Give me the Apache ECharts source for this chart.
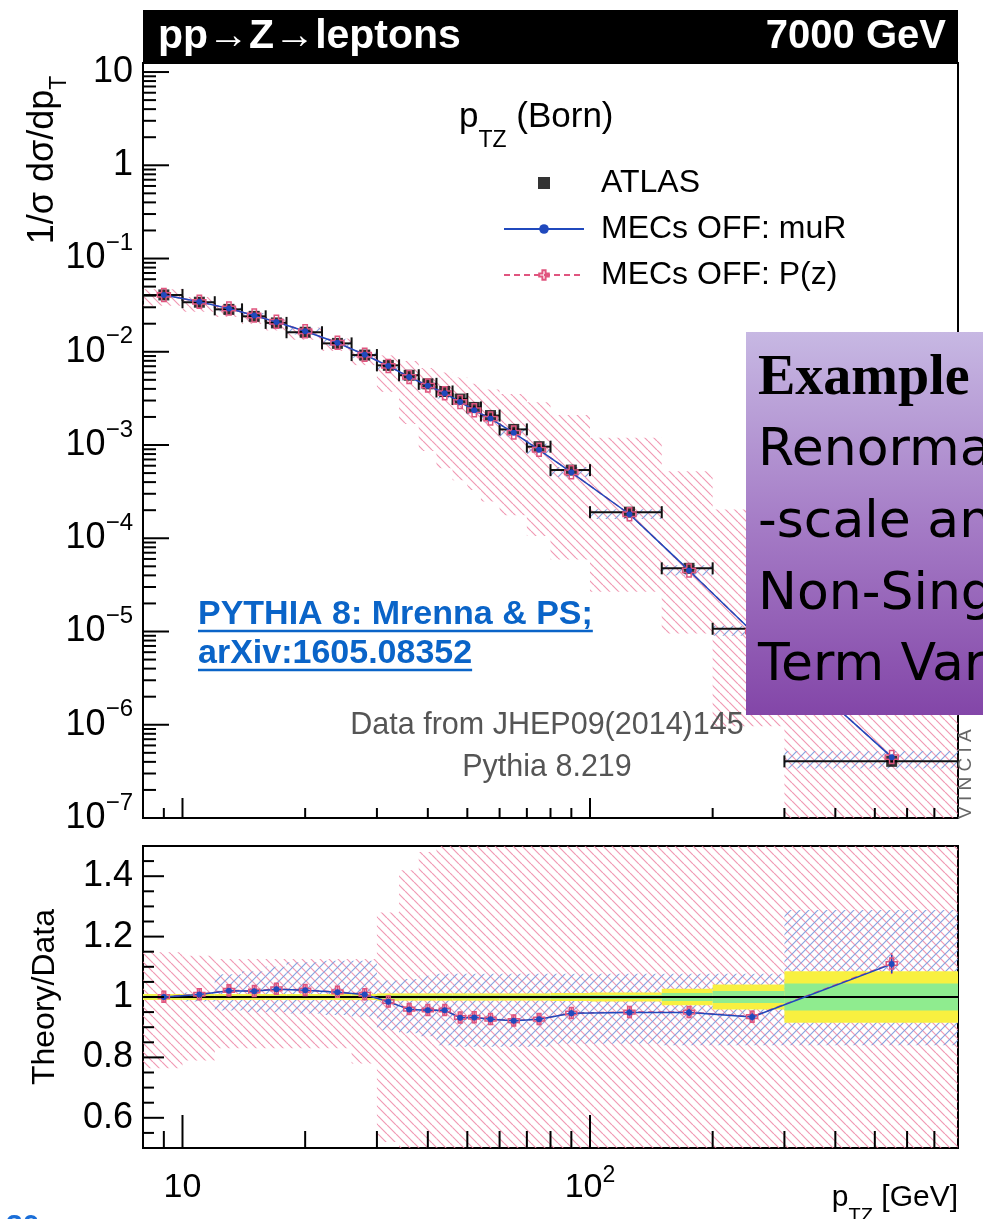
<!DOCTYPE html>
<html><head><meta charset="utf-8">
<script src="https://cdn.jsdelivr.net/npm/echarts@6/dist/echarts.min.js"></script>
<style>html,body{margin:0;padding:0;background:#fff}#c{width:983px;height:1219px}</style>
</head><body><div id="c"></div>
<script>
// ---------------- data ----------------
const binLo     = [8,10,12,14,16,18,22,26,30,34,38,42,46,50,54,60,70,80,100,150,200,300];
const binHi     = [10,12,14,16,18,22,26,30,34,38,42,46,50,54,60,70,80,100,150,200,300,800];
const binCenter = [9,11,13,15,17,20,24,28,32,36,40,44,48,52,57,65,75,90,125,175,250,550];
const atlas = [0.0407,0.0340,0.0285,0.0240,0.0204,0.0162,0.0123,0.00922,0.00715,0.00560,0.00453,0.00375,0.00311,0.00253,0.00207,0.00147,0.00096,0.000538,1.905e-4,4.76e-5,1.07e-5,4.05e-7];
const mcMuR = [0.0407,0.0343,0.0291,0.0245,0.0209,0.0166,0.0125,0.00929,0.00704,0.00537,0.00433,0.00359,0.00290,0.00236,0.00192,0.00135,0.000889,0.000509,1.81e-4,4.52e-5,1.0e-5,4.49e-7];
const mcPz  = [0.0407,0.0343,0.0291,0.0245,0.0210,0.0166,0.0125,0.00930,0.00705,0.00538,0.00434,0.00360,0.00290,0.00236,0.00192,0.00136,0.000890,0.000510,1.81e-4,4.52e-5,1.0e-5,4.50e-7];
const ratioMuR = [1.000,1.008,1.021,1.019,1.026,1.022,1.016,1.008,0.984,0.959,0.956,0.956,0.931,0.932,0.926,0.921,0.926,0.946,0.949,0.949,0.934,1.109];
const ratioPz  = [1.001,1.009,1.022,1.020,1.027,1.023,1.017,1.009,0.985,0.960,0.957,0.957,0.932,0.933,0.927,0.922,0.927,0.947,0.950,0.950,0.935,1.111];
const errMuR = [0.008,0.008,0.008,0.008,0.008,0.008,0.008,0.008,0.008,0.008,0.008,0.008,0.008,0.008,0.008,0.009,0.009,0.010,0.010,0.012,0.012,0.030];
const errPz  = [0.020,0.020,0.020,0.020,0.020,0.020,0.020,0.020,0.020,0.020,0.020,0.020,0.020,0.020,0.020,0.020,0.020,0.020,0.020,0.020,0.020,0.035];
// P(z) variation band, relative to data
const pinkLo = [0.764,0.790,0.830,0.830,0.830,0.830,0.830,0.780,0.520,0.300,0.190,0.150,0.135,0.130,0.120,0.120,0.110,0.110,0.140,0.200,0.090,0.050];
const pinkHi = [1.148,1.137,1.126,1.126,1.126,1.126,1.126,1.126,1.280,1.420,1.480,1.600,1.700,1.800,1.900,2.400,3.000,3.900,6.300,11.00,19.00,300.0];
// muR variation band, relative to data
const blueLo = [0.990,0.985,0.955,0.950,0.950,0.945,0.940,0.935,0.890,0.880,0.870,0.840,0.835,0.835,0.835,0.835,0.835,0.845,0.845,0.840,0.840,0.840];
const blueHi = [1.010,1.015,1.075,1.085,1.100,1.115,1.120,1.120,1.055,1.060,1.070,1.077,1.077,1.077,1.077,1.077,1.077,1.077,1.077,1.077,1.077,1.288];
// data uncertainties (relative half widths)
const totErr  = [0.010,0.010,0.010,0.010,0.010,0.010,0.010,0.010,0.012,0.012,0.012,0.012,0.012,0.012,0.012,0.012,0.012,0.013,0.015,0.027,0.041,0.085];
const statErr = [0.004,0.004,0.004,0.004,0.004,0.004,0.004,0.004,0.005,0.005,0.005,0.005,0.005,0.005,0.005,0.005,0.005,0.006,0.007,0.013,0.020,0.045];
// ticks
const xMajorTicks = [10,100];
const xMinorTicks = [9,20,30,40,50,60,70,80,90,200,300,400,500,600,700];
const yMajorTicks = [1e-7,1e-6,1e-5,1e-4,1e-3,1e-2,1e-1,1,10];
const yMinorTicks = [];
for (let n = -7; n <= 0; n++) for (let k = 2; k <= 9; k++) yMinorTicks.push(k * Math.pow(10, n));
const rMajorTicks = [0.6,0.8,1.0,1.2,1.4];
const rMinorTicks = [0.55,0.65,0.7,0.75,0.85,0.9,0.95,1.05,1.1,1.15,1.25,1.3,1.35,1.45];

// ---------------- styles ----------------
const FONT = '"Liberation Sans", Arial, Helvetica, sans-serif';
const PINK = '#e0557f';
const BLUE = '#2049bd';
const LINK = '#0a64c8';
const CROSS = 'path://M4,0H8V4H12V8H8V12H4V8H0V4H4Z';

function textWidth(text, font) {
  const g = document.createElement('canvas').getContext('2d'); g.font = font; return g.measureText(text).width;
}
function hatch(color, dir) {
  const s = 9;
  const c = document.createElement('canvas'); c.width = s; c.height = s;
  const g = c.getContext('2d'); g.strokeStyle = color; g.lineWidth = 1.2;
  g.beginPath();
  for (const k of [-s, 0, s]) {
    if (dir === 'back') { g.moveTo(k, 0); g.lineTo(k + s, s); }
    else { g.moveTo(k, s); g.lineTo(k + s, 0); }
  }
  g.stroke();
  return { image: c, repeat: 'repeat' };
}
const pinkHatch = hatch('rgba(236,128,160,0.8)', 'back');
const blueHatch = hatch('rgba(115,150,220,0.85)', 'fwd');

function bandSeries(xi, yi, rows, fill) {
  return { type: 'custom', xAxisIndex: xi, yAxisIndex: yi, silent: true, data: rows,
    encode: { x: [0, 1], y: [2, 3] },
    renderItem(params, api) {
      const cs = params.coordSys;
      const a = api.coord([api.value(0), api.value(2)]);
      const b = api.coord([api.value(1), api.value(3)]);
      const x1 = Math.max(cs.x, Math.min(a[0], b[0]));
      const x2 = Math.min(cs.x + cs.width, Math.max(a[0], b[0]));
      const y1 = Math.max(cs.y, Math.min(a[1], b[1]));
      const y2 = Math.min(cs.y + cs.height, Math.max(a[1], b[1]));
      if (!(x2 > x1 && y2 > y1)) return null;
      return { type: 'rect', shape: { x: x1, y: y1, width: x2 - x1, height: y2 - y1 }, style: { fill: fill } };
    } };
}
function xTickSeries(xi, yi, vals, len, refY) {
  return { type: 'custom', xAxisIndex: xi, yAxisIndex: yi, silent: true, z: 6,
    data: vals.map(v => [v, refY]),
    renderItem(params, api) {
      const cs = params.coordSys; const p = api.coord([api.value(0), api.value(1)]);
      const yb = cs.y + cs.height;
      return { type: 'line', shape: { x1: p[0], y1: yb, x2: p[0], y2: yb - len }, style: { stroke: '#000', lineWidth: 2 } };
    } };
}
function yTickSeries(xi, yi, vals, len, refX) {
  return { type: 'custom', xAxisIndex: xi, yAxisIndex: yi, silent: true, z: 6,
    data: vals.map(v => [refX, v]),
    renderItem(params, api) {
      const cs = params.coordSys; const p = api.coord([api.value(0), api.value(1)]);
      return { type: 'line', shape: { x1: cs.x, y1: p[1], x2: cs.x + len, y2: p[1] }, style: { stroke: '#000', lineWidth: 2 } };
    } };
}
function hErrSeries(rows) {
  return { type: 'custom', xAxisIndex: 0, yAxisIndex: 0, silent: true, data: rows,
    encode: { x: [0, 1], y: 2 },
    renderItem(params, api) {
      const cs = params.coordSys;
      const a = api.coord([api.value(0), api.value(2)]);
      const b = api.coord([api.value(1), api.value(2)]);
      const x1 = Math.max(cs.x, a[0]), x2 = Math.min(cs.x + cs.width, b[0]), y = a[1];
      const st = { stroke: '#111', lineWidth: 2 };
      return { type: 'group', children: [
        { type: 'line', shape: { x1: x1, y1: y, x2: x2, y2: y }, style: st },
        { type: 'line', shape: { x1: x1, y1: y - 6, x2: x1, y2: y + 6 }, style: st },
        { type: 'line', shape: { x1: x2, y1: y - 6, x2: x2, y2: y + 6 }, style: st }
      ] };
    } };
}
function vErrSeries(rows, color) {
  return { type: 'custom', xAxisIndex: 1, yAxisIndex: 1, silent: true, data: rows,
    encode: { x: 0, y: 1 },
    renderItem(params, api) {
      const a = api.coord([api.value(0), api.value(1) - api.value(2)]);
      const b = api.coord([api.value(0), api.value(1) + api.value(2)]);
      return { type: 'line', shape: { x1: a[0], y1: a[1], x2: b[0], y2: b[1] }, style: { stroke: color, lineWidth: 1.5 } };
    } };
}
function powLabel(v) {
  const e = Math.log10(v); const r = Math.round(e);
  if (Math.abs(e - r) > 1e-6) return '';
  if (r === 0) return '{b|1}';
  if (r === 1) return '{b|10}';
  return '{b|10}{s|' + (r < 0 ? '\u2212' + (-r) : r) + '}';
}

const idx = binLo.map((_, i) => i);
const rows = (lo, hi) => idx.map(i => [binLo[i], binHi[i], lo(i), hi(i)]);

const linkFont = 'bold 34px ' + FONT;
const link1 = 'PYTHIA 8: Mrenna & PS;';
const link2 = 'arXiv:1605.08352';
const w1 = textWidth(link1, linkFont), w2 = textWidth(link2, linkFont);
const boxFont = '52px "DejaVu Sans", "Noto Sans", sans-serif';

const chart = echarts.init(document.getElementById('c'), null, { renderer: 'canvas' });
const option = {
  animation: false,
  backgroundColor: '#fff',
  grid: [
    { left: 143, top: 63, width: 815, height: 755, show: true, borderColor: '#000', borderWidth: 2, backgroundColor: 'transparent', containLabel: false, outerBoundsMode: 'none' },
    { left: 143, top: 846, width: 815, height: 302, show: true, borderColor: '#000', borderWidth: 2, backgroundColor: 'transparent', containLabel: false, outerBoundsMode: 'none' }
  ],
  xAxis: [
    { type: 'log', logBase: 10, gridIndex: 0, min: 8, max: 800, axisLine: { show: false }, axisTick: { show: false }, axisLabel: { show: false }, splitLine: { show: false } },
    { type: 'log', logBase: 10, gridIndex: 1, min: 8, max: 800, axisLine: { show: false }, axisTick: { show: false }, splitLine: { show: false },
      axisLabel: { show: true, interval: 0, margin: 16, formatter: powLabel, color: '#000',
        rich: { b: { fontSize: 34, fontFamily: FONT, lineHeight: 48, color: '#000' },
                s: { fontSize: 23, fontFamily: FONT, lineHeight: 23, verticalAlign: 'top', color: '#000' } } } }
  ],
  yAxis: [
    { type: 'log', logBase: 10, gridIndex: 0, min: 1e-7, max: 12.5, axisLine: { show: false }, axisTick: { show: false }, splitLine: { show: false },
      axisLabel: { show: true, interval: 0, margin: 10, formatter: powLabel, color: '#000',
        rich: { b: { fontSize: 36, fontFamily: FONT, lineHeight: 54, color: '#000' },
                s: { fontSize: 24, fontFamily: FONT, lineHeight: 24, verticalAlign: 'top', color: '#000' } } } },
    { type: 'value', gridIndex: 1, min: 0.5, max: 1.5, interval: 0.1, axisLine: { show: false }, axisTick: { show: false }, splitLine: { show: false },
      axisLabel: { show: true, margin: 10, fontSize: 36, fontFamily: FONT, color: '#000',
        formatter: v => { const r = Math.round(v * 10); return (r % 2 === 0 && r >= 6 && r <= 14) ? String(r / 10) : ''; } } }
  ],
  legend: {
    left: 503, top: 165, padding: 0, orient: 'vertical', itemWidth: 80, itemHeight: 12, itemGap: 10, selectedMode: false,
    data: [{ name: 'ATLAS', icon: 'path://M0,0H10V10H0Z' }, 'MECs OFF: muR', 'MECs OFF: P(z)'],
    textStyle: { fontSize: 32, fontFamily: FONT, color: '#000', lineHeight: 36, padding: [0, 0, 0, 12] }
  },
  series: [
    // main panel bands
    bandSeries(0, 0, rows(i => atlas[i] * pinkLo[i], i => atlas[i] * pinkHi[i]), pinkHatch),
    bandSeries(0, 0, rows(i => atlas[i] * blueLo[i], i => atlas[i] * blueHi[i]), blueHatch),
    // ratio panel bands
    bandSeries(1, 1, rows(i => pinkLo[i], i => pinkHi[i]), pinkHatch),
    bandSeries(1, 1, rows(i => blueLo[i], i => blueHi[i]), blueHatch),
    bandSeries(1, 1, rows(i => 1 - totErr[i], i => 1 + totErr[i]), '#f8f040'),
    bandSeries(1, 1, rows(i => 1 - statErr[i], i => 1 + statErr[i]), '#8fec8f'),
    // unity line
    { type: 'custom', xAxisIndex: 1, yAxisIndex: 1, silent: true, data: [[10, 1]],
      renderItem(params, api) { const cs = params.coordSys; const p = api.coord([api.value(0), api.value(1)]);
        return { type: 'line', shape: { x1: cs.x, y1: p[1], x2: cs.x + cs.width, y2: p[1] }, style: { stroke: '#000', lineWidth: 2 } }; } },
    // data
    hErrSeries(idx.map(i => [binLo[i], binHi[i], atlas[i]])),
    { name: 'ATLAS', type: 'scatter', xAxisIndex: 0, yAxisIndex: 0, symbol: 'rect', symbolSize: 11,
      itemStyle: { color: '#000' }, data: idx.map(i => [binCenter[i], atlas[i]]) },
    { name: 'MECs OFF: P(z)', type: 'line', xAxisIndex: 0, yAxisIndex: 0, symbol: CROSS, symbolSize: 13,
      lineStyle: { color: PINK, width: 1.5, type: [6, 4] }, itemStyle: { color: 'rgba(255,255,255,0)', borderColor: PINK, borderWidth: 1.5 },
      data: idx.map(i => [binCenter[i], mcPz[i]]) },
    { name: 'MECs OFF: muR', type: 'line', xAxisIndex: 0, yAxisIndex: 0, symbol: 'circle', symbolSize: 6,
      lineStyle: { color: BLUE, width: 1.5 }, itemStyle: { color: BLUE },
      data: idx.map(i => [binCenter[i], mcMuR[i]]) },
    // ratio
    vErrSeries(idx.map(i => [binCenter[i], ratioPz[i], errPz[i]]), PINK),
    { name: 'rPz', type: 'line', xAxisIndex: 1, yAxisIndex: 1, symbol: CROSS, symbolSize: 11,
      lineStyle: { color: PINK, width: 1.5, type: [6, 4] }, itemStyle: { color: 'rgba(255,255,255,0)', borderColor: PINK, borderWidth: 1.5 },
      data: idx.map(i => [binCenter[i], ratioPz[i]]) },
    vErrSeries(idx.map(i => [binCenter[i], ratioMuR[i], errMuR[i]]), BLUE),
    { name: 'rMuR', type: 'line', xAxisIndex: 1, yAxisIndex: 1, symbol: 'circle', symbolSize: 6,
      lineStyle: { color: BLUE, width: 1.5 }, itemStyle: { color: BLUE },
      data: idx.map(i => [binCenter[i], ratioMuR[i]]) },
    // ticks
    xTickSeries(0, 0, xMajorTicks, 20, 1), xTickSeries(0, 0, xMinorTicks, 10, 1),
    yTickSeries(0, 0, yMajorTicks, 26, 10), yTickSeries(0, 0, yMinorTicks, 13, 10),
    xTickSeries(1, 1, xMajorTicks, 33, 1), xTickSeries(1, 1, xMinorTicks, 17, 1),
    yTickSeries(1, 1, rMajorTicks, 21, 10), yTickSeries(1, 1, rMinorTicks, 11, 10)
  ],
  graphic: [
    { type: 'rect', z: 100, shape: { x: 143, y: 10, width: 815, height: 53 }, style: { fill: '#000' } },
    { type: 'text', z: 101, x: 158, y: 37, style: { text: 'pp\u2192Z\u2192leptons', fill: '#fff', font: 'bold 41px ' + FONT, align: 'left', verticalAlign: 'middle' } },
    { type: 'text', z: 101, x: 946, y: 37, style: { text: '7000 GeV', fill: '#fff', font: 'bold 40px ' + FONT, align: 'right', verticalAlign: 'middle' } },
    { type: 'text', z: 101, x: 459, y: 117, style: { text: '{p|p}{s|TZ}{p| (Born)}', align: 'left', verticalAlign: 'middle',
        rich: { p: { fontSize: 35, fontFamily: FONT, lineHeight: 70, fill: '#000' }, s: { fontSize: 23, fontFamily: FONT, lineHeight: 23, verticalAlign: 'bottom', fill: '#000' } } } },
    { type: 'text', z: 101, x: 43, y: 160, rotation: Math.PI / 2, style: { text: '{n|1/\u03c3 d\u03c3/dp}{s|T}', align: 'center', verticalAlign: 'middle',
        rich: { n: { fontSize: 36, fontFamily: FONT, lineHeight: 56, fill: '#000' }, s: { fontSize: 23, fontFamily: FONT, lineHeight: 23, verticalAlign: 'bottom', fill: '#000' } } } },
    { type: 'text', z: 101, x: 45, y: 997, rotation: Math.PI / 2, style: { text: 'Theory/Data', fill: '#000', font: '32px ' + FONT, align: 'center', verticalAlign: 'middle' } },
    { type: 'text', z: 101, x: 958, y: 1198, style: { text: '{p|p}{s|TZ}{p| [GeV]}', align: 'right', verticalAlign: 'middle',
        rich: { p: { fontSize: 30, fontFamily: FONT, lineHeight: 56, fill: '#000' }, s: { fontSize: 20, fontFamily: FONT, lineHeight: 20, verticalAlign: 'bottom', fill: '#000' } } } },
    { type: 'text', z: 101, x: 198, y: 615, style: { text: link1, fill: LINK, font: linkFont, align: 'left', verticalAlign: 'middle' } },
    { type: 'text', z: 101, x: 198, y: 654, style: { text: link2, fill: LINK, font: linkFont, align: 'left', verticalAlign: 'middle' } },
    { type: 'line', z: 101, shape: { x1: 198, y1: 631, x2: 198 + w1, y2: 631 }, style: { stroke: LINK, lineWidth: 2.5 } },
    { type: 'line', z: 101, shape: { x1: 198, y1: 670, x2: 198 + w2, y2: 670 }, style: { stroke: LINK, lineWidth: 2.5 } },
    { type: 'text', z: 101, x: 547, y: 726, style: { text: 'Data from JHEP09(2014)145', fill: '#555', font: '30.5px ' + FONT, align: 'center', verticalAlign: 'middle' } },
    { type: 'text', z: 101, x: 547, y: 768, style: { text: 'Pythia 8.219', fill: '#555', font: '30.5px ' + FONT, align: 'center', verticalAlign: 'middle' } },
    { type: 'text', z: 101, x: 966, y: 819, rotation: Math.PI / 2, style: { text: 'V I N C I A', fill: '#666', font: '19px ' + FONT, align: 'left', verticalAlign: 'middle' } },
    { type: 'rect', z: 110, shape: { x: 746, y: 332, width: 240, height: 383 },
      style: { fill: new echarts.graphic.LinearGradient(0, 0, 0, 1, [{ offset: 0, color: '#c7b8e3' }, { offset: 0.5, color: '#a57cc6' }, { offset: 1, color: '#8346a8' }]) } },
    { type: 'text', z: 111, x: 758, y: 380, style: { text: 'Example', fill: '#000', font: 'bold 56px "Liberation Serif", "DejaVu Serif", serif', align: 'left', verticalAlign: 'middle' } },
    { type: 'text', z: 111, x: 758, y: 451, style: { text: 'Renormalization', fill: '#000', font: boxFont, align: 'left', verticalAlign: 'middle' } },
    { type: 'text', z: 111, x: 758, y: 523, style: { text: '-scale and', fill: '#000', font: boxFont, align: 'left', verticalAlign: 'middle' } },
    { type: 'text', z: 111, x: 758, y: 595, style: { text: 'Non-Singular', fill: '#000', font: boxFont, align: 'left', verticalAlign: 'middle' } },
    { type: 'text', z: 111, x: 758, y: 666, style: { text: 'Term Variations', fill: '#000', font: boxFont, align: 'left', verticalAlign: 'middle' } },
    { type: 'text', z: 101, x: 6, y: 1212, style: { text: '30', fill: '#1a6ed8', font: 'bold 30px ' + FONT, align: 'left', verticalAlign: 'top' } }
  ]
};
chart.setOption(option);
</script>
</body></html>
